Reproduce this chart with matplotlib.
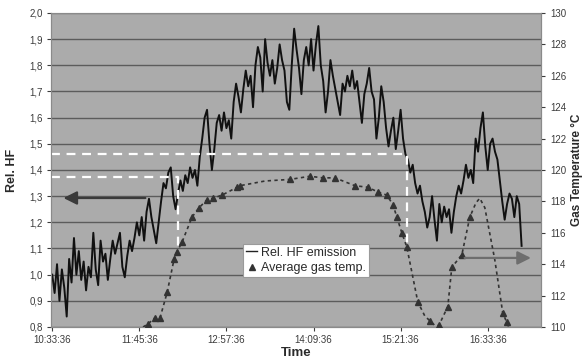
import numpy as np
import matplotlib
matplotlib.use("Agg")
import matplotlib.pyplot as plt
from matplotlib.lines import Line2D

plt.rcParams['font.family'] = ['Liberation Sans', 'DejaVu Sans']

# relative HF emission, sampled every 2 minutes from 10:33:36
hf_values = [
    1.00, 0.93, 1.04, 0.90, 1.02, 0.95, 0.84, 1.06, 0.97, 1.14,
    1.00, 1.09, 0.98, 1.05, 0.94, 1.03, 0.99, 1.16, 1.02, 0.96,
    1.13, 1.05, 1.08, 0.98, 1.06, 1.13, 1.08, 1.12, 1.16, 1.03,
    0.99, 1.07, 1.13, 1.09, 1.14, 1.20, 1.15, 1.22, 1.13, 1.24,
    1.29, 1.22, 1.17, 1.12, 1.20, 1.28, 1.35, 1.33, 1.39, 1.41,
    1.30, 1.25, 1.31, 1.36, 1.32, 1.38, 1.35, 1.41, 1.37, 1.40,
    1.34, 1.45, 1.52, 1.60, 1.63, 1.50, 1.40, 1.48, 1.58, 1.61,
    1.55, 1.62, 1.56, 1.59, 1.52, 1.66, 1.73, 1.68, 1.62, 1.71,
    1.78, 1.72, 1.76, 1.64, 1.80, 1.87, 1.83, 1.70, 1.90, 1.81,
    1.76, 1.82, 1.73, 1.79, 1.88, 1.82, 1.78, 1.66, 1.63, 1.80,
    1.94, 1.86, 1.79, 1.69, 1.82, 1.87, 1.80, 1.90, 1.78, 1.88,
    1.95, 1.80, 1.74, 1.62, 1.70, 1.82, 1.76, 1.71, 1.66, 1.61,
    1.73, 1.70, 1.76, 1.72, 1.78, 1.71, 1.74, 1.66, 1.58, 1.69,
    1.73, 1.79, 1.70, 1.67, 1.52, 1.60, 1.72, 1.66, 1.56, 1.49,
    1.55, 1.60, 1.48, 1.55, 1.63, 1.52, 1.46, 1.44, 1.39, 1.42,
    1.35, 1.31, 1.34, 1.28, 1.24, 1.18, 1.22, 1.30, 1.21, 1.13,
    1.27, 1.20, 1.26, 1.22, 1.25, 1.16, 1.24, 1.30, 1.34, 1.31,
    1.36, 1.42, 1.37, 1.40, 1.35, 1.52, 1.47, 1.56, 1.62, 1.49,
    1.40, 1.50, 1.52, 1.47, 1.44, 1.36, 1.28, 1.21, 1.27, 1.31,
    1.29, 1.22, 1.30, 1.27, 1.11,
]
hf_minutes = np.arange(len(hf_values)) * 2

# average gas temperature (dotted curve), minutes after 10:33:36
gas_minutes = [75.1, 79.3, 85.1, 89.2, 95.0, 100.7, 103.2, 107.3, 115.6, 121.4,
               128.0, 132.9, 140.4, 152.8, 155.2, 176.0, 196.5, 213.0, 223.8, 233.7,
               250.2, 261.0, 269.2, 276.6, 281.6, 284.9, 289.0, 293.1, 302.2, 308.0,
               312.1, 316.3, 319.6, 327.0, 330.3, 338.6, 345.2, 350.2, 353.4, 357.6,
               365.8, 372.4, 375.7, 377.4]
gas_temp = [110.0, 110.2, 110.6, 110.6, 112.2, 114.3, 114.8, 115.4, 117.0, 117.6,
            118.1, 118.2, 118.4, 118.9, 119.0, 119.3, 119.4, 119.6, 119.5, 119.5,
            119.0, 118.9, 118.6, 118.4, 117.8, 117.0, 116.0, 115.1, 111.6, 110.7,
            110.4, 110.1, 110.1, 111.3, 113.8, 114.6, 117.0, 117.9, 118.2, 117.6,
            114.3, 110.9, 110.3, 110.0]
gas_marked = [1, 2, 3, 4, 5, 6, 7, 8, 9, 10, 11, 12, 13, 14, 16, 17, 18, 19,
              20, 21, 22, 23, 24, 25, 26, 27, 28, 30, 32, 33, 34, 35, 36, 41, 42]

time_ticks = [0, 72, 144, 216, 288, 360]
time_labels = ['10:33:36', '11:45:36', '12:57:36', '14:09:36', '15:21:36', '16:33:36']
hf_ticks = [0.8, 0.9, 1.0, 1.1, 1.2, 1.3, 1.4, 1.5, 1.6, 1.7, 1.8, 1.9, 2.0]
hf_labels = ['0,8', '0,9', '1,0', '1,1', '1,2', '1,3', '1,4', '1,5', '1,6', '1,7', '1,8', '1,9', '2,0']
temp_ticks = [110, 112, 114, 116, 118, 120, 122, 124, 126, 128, 130]

fig = plt.figure(figsize=(5.84, 3.62), dpi=100)
ax = fig.add_axes([0.0873, 0.0967, 0.839, 0.8674])
ax.set_facecolor('#ababab')
ax2 = ax.twinx()

for t in hf_ticks:
    ax.axhline(t, color='#5c5c5c', lw=1.0, zorder=1)

ax.plot(hf_minutes, hf_values, color='#111111', lw=1.4, zorder=3)

# white helper lines
ax.plot([-1, 104, 104], [1.373, 1.373, 1.10], color='white', lw=1.6, ls=(0, (4, 3)), zorder=4)
ax.plot([-1, 293, 293], [1.461, 1.461, 1.10], color='white', lw=1.6, ls=(0, (4, 3)), zorder=4)

ax.annotate('', xy=(7, 1.293), xytext=(79.3, 1.293),
            arrowprops=dict(arrowstyle='-|>', color='#3a3a3a', lw=1.6, mutation_scale=20),
            zorder=5)

ax2.plot(gas_minutes, gas_temp, color='#333333', lw=1.2, ls=(0, (2, 2)),
         marker='^', markersize=5, markevery=gas_marked, zorder=3)
ax2.annotate('', xy=(398, 114.4), xytext=(338.6, 114.4),
             arrowprops=dict(arrowstyle='-|>', color='#6e6e6e', lw=1.6, mutation_scale=20),
             zorder=5)

ax.set_xlim(-1, 404)
ax.set_ylim(0.8, 2.0)
ax2.set_ylim(110, 130)

ax.set_xticks(time_ticks)
ax.set_xticklabels(time_labels)
ax.set_yticks(hf_ticks)
ax.set_yticklabels(hf_labels)
ax2.set_yticks(temp_ticks)

tick_color = '#3c3c3c'
ax.tick_params(axis='both', labelsize=7, colors=tick_color, length=3, width=0.8, pad=3)
ax2.tick_params(axis='y', labelsize=7, colors=tick_color, length=3, width=0.8, pad=4)

for a in (ax, ax2):
    for s in a.spines.values():
        s.set_color('#8a8a8a')
        s.set_linewidth(0.8)
ax.spines['top'].set_color('#d8d8d8')

ax.set_ylabel('Rel. HF', fontsize=9, fontweight='bold', color='#2a2a2a', labelpad=8)
ax2.set_ylabel('Gas Temperature °C', fontsize=8.5, fontweight='bold', color='#2a2a2a', labelpad=3)
ax.set_xlabel('Time', fontsize=9.5, fontweight='bold', color='#2a2a2a', labelpad=1)

handles = [Line2D([], [], color='#222222', lw=1.0),
           Line2D([], [], color='#333333', ls='none', marker='^', markersize=5)]
leg = ax2.legend(handles, ['Rel. HF emission', 'Average gas temp.'],
                 loc='lower left', bbox_to_anchor=(0.392, 0.159), borderaxespad=0,
                 fontsize=9, handlelength=0.9, handletextpad=0.3, borderpad=0.25,
                 labelspacing=0.25, fancybox=False, framealpha=1, edgecolor='#9a9a9a')
leg.get_frame().set_linewidth(0.8)
for txt in leg.get_texts():
    txt.set_color('#2a2a2a')

fig.savefig('out.png', dpi=100, facecolor='white')
